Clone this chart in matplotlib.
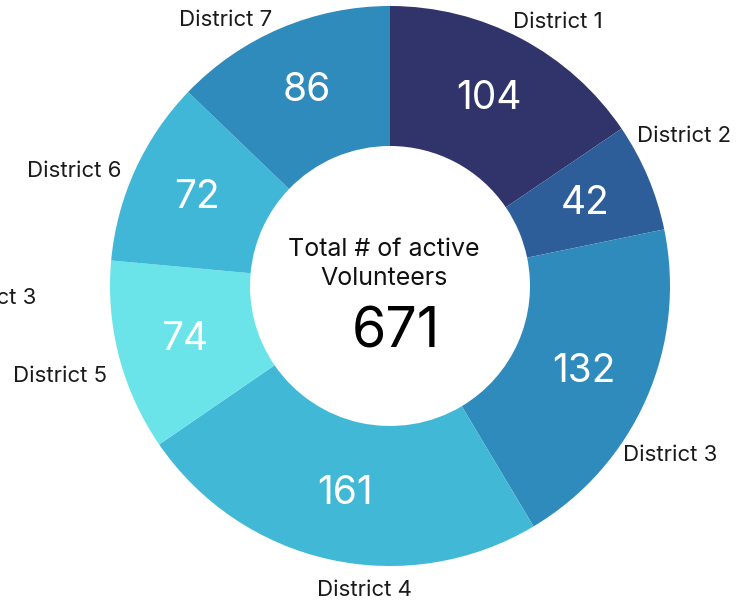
import matplotlib
matplotlib.use("Agg")
import matplotlib.pyplot as plt
import numpy as np

districts = ["District 1", "District 2", "District 3", "District 4",
             "District 5", "District 6", "District 7"]
volunteers = [104, 42, 132, 161, 74, 72, 86]
colors = ["#31336b", "#2d5e99", "#2e8bbb", "#40b8d6", "#6ae4e8", "#41b7d7", "#2e8bbb"]

# label anchors in pixel coords (x, y from top), as placed in the original
label_pos = [(558, 22), (684, 136), (670, 455), (364, 590), (60, 376), (74, 171), (226, 20)]
center_title = "Total # of active\nVolunteers"

W, H = 750, 606
plt.rcParams["font.family"] = ["Inter", "DejaVu Sans"]
fig = plt.figure(figsize=(W / 100, H / 100), dpi=100)
ax = fig.add_axes([0, 0, 1, 1])

cx, cy, R = 390, H - 286, 280
wedges, texts = ax.pie(volunteers, colors=colors, startangle=90, counterclock=False,
                       center=(cx, cy), radius=R, frame=True,
                       wedgeprops=dict(width=140, linewidth=0))
ax.set_xlim(0, W)
ax.set_ylim(0, H)
ax.set_aspect("equal")
ax.axis("off")

for w, v in zip(wedges, volunteers):
    ang = np.deg2rad((w.theta1 + w.theta2) / 2)
    r = R - 68
    ax.text(cx + r * np.cos(ang), cy + r * np.sin(ang), str(v), color="white",
            fontsize=28, ha="center", va="center")

for name, (px, py) in zip(districts, label_pos):
    ax.text(px, H - py, name, fontsize=16, color="#1a1a1a", ha="center", va="center")

# stray cut-off label at the left edge (as in the original)
ax.text(36, H - 298, "District 3", fontsize=16, color="#1a1a1a", ha="right", va="center",
        clip_on=False)

ax.text(cx - 6, H - 264, center_title, fontsize=18, color="#111111", ha="center",
        va="center", linespacing=1.3)
ax.text(cx + 6, H - 333, str(sum(volunteers)), fontsize=40, color="#000000",
        ha="center", va="center")

fig.savefig("out.png", dpi=100, facecolor="white")
